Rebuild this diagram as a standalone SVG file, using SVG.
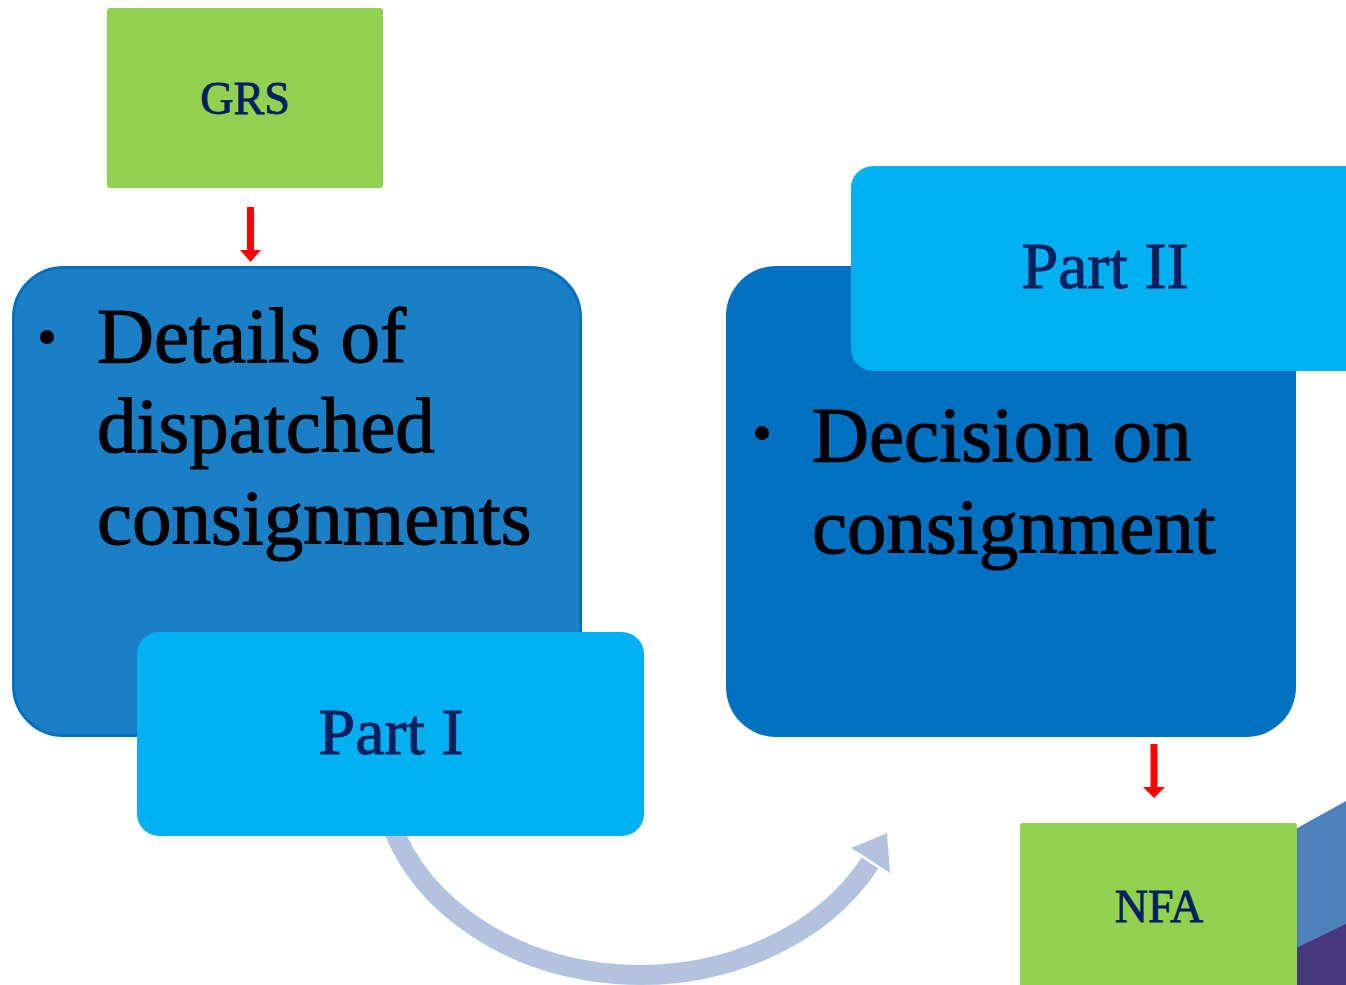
<svg xmlns="http://www.w3.org/2000/svg" width="1346" height="985" viewBox="0 0 1346 985">
<style>
.big{font-family:"Liberation Serif","Times New Roman",serif;font-size:79px;fill:#000000;stroke:#000000;stroke-width:1.2}
.lbl{font-family:"Liberation Serif","Times New Roman",serif;font-size:66px;fill:#002060;stroke:#002060;stroke-width:1;text-anchor:middle}
.sm{font-family:"Liberation Serif","Times New Roman",serif;font-size:46px;fill:#002060;stroke:#002060;stroke-width:0.8;text-anchor:middle}
.green{fill:#92D050}
.tab{fill:#00B0F0}
.red{fill:#FF0000}
</style>
<rect width="1346" height="985" fill="#FFFFFF"/>
<g id="decor">
<polygon points="1292,831 1346,801 1346,985 1292,985" fill="#4F81BD"/>
<polygon points="1292,950 1346,924 1346,985 1292,985" fill="#47387D"/>
</g>
<g id="connectors">
<path d="M 392 826 A 260 211 0 0 0 870 863" fill="none" stroke="#B3C3DE" stroke-width="20"/>
<polygon points="887,833 851,848 864,856 890,873" fill="#B3C3DE"/>
<polygon class="red" points="247,207 254,207 254,250 261,250 250.5,262 240,250 247,250"/>
<polygon class="red" points="1150.5,744 1157.5,744 1157.5,787 1165,787 1154,798 1143,787 1150.5,787"/>
</g>
<g id="grs">
<rect class="green" x="107" y="8" width="276" height="180" rx="3"/>
<text class="sm" x="245" y="114">GRS</text>
</g>
<g id="details">
<rect x="13.5" y="267.5" width="567" height="468" rx="50" fill="#1B7FC6" stroke="#0070C0" stroke-width="3"/>
<circle cx="47" cy="337" r="7" fill="#000"/>
<text class="big" x="97" y="362">Details of</text>
<text class="big" x="97" y="452">dispatched</text>
<text class="big" x="97" y="544">consignments</text>
</g>
<g id="part1">
<rect class="tab" x="137" y="632" width="507" height="204" rx="22"/>
<text class="lbl" x="391" y="754">Part I</text>
</g>
<g id="decision">
<rect x="726" y="266" width="570" height="471" rx="50" fill="#0070C0"/>
<circle cx="762" cy="433" r="7" fill="#000"/>
<text class="big" x="812" y="461">Decision on</text>
<text class="big" x="812" y="553">consignment</text>
</g>
<g id="part2">
<rect class="tab" x="851" y="166" width="520" height="205" rx="22"/>
<text class="lbl" x="1105" y="288">Part II</text>
</g>
<g id="nfa">
<rect class="green" x="1020" y="823" width="277" height="180" rx="3"/>
<text class="sm" x="1159" y="922">NFA</text>
</g>
</svg>
